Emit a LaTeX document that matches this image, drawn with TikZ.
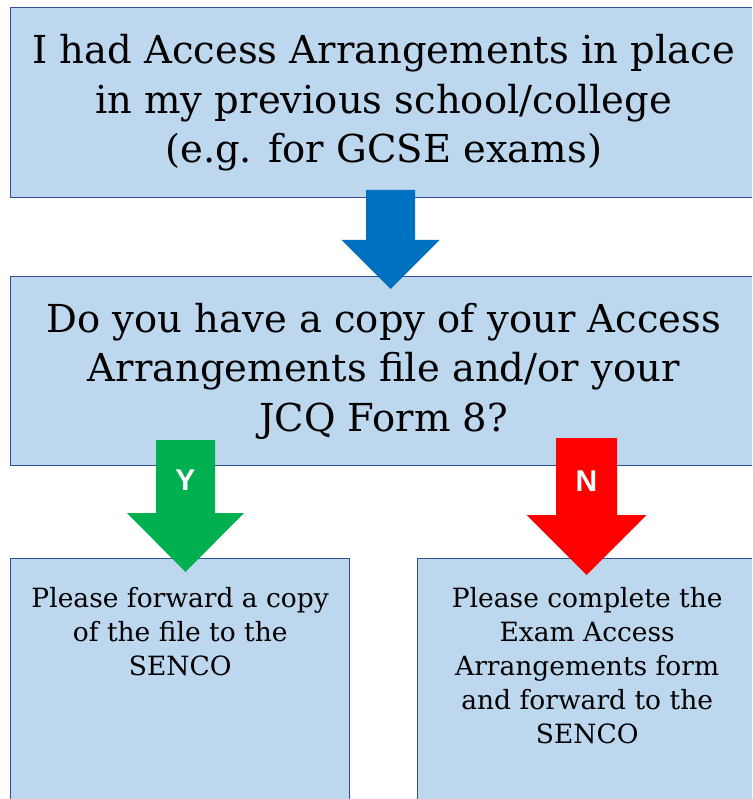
\documentclass[tikz,border=0pt]{standalone}
\usepackage{fontspec}
\setmainfont{DejaVu Serif}
\newfontfamily\yesnofont{Liberation Sans}
\usetikzlibrary{positioning}

\definecolor{boxfill}{HTML}{BDD7EE}
\definecolor{boxline}{HTML}{2F528F}
\definecolor{downblue}{HTML}{0070C0}
\definecolor{yesgreen}{HTML}{00B050}
\definecolor{nored}{HTML}{FF0000}

\tikzset{
	box/.style={draw=boxline, fill=boxfill, line width=1.4pt, inner sep=0pt, anchor=north west},
	bigtext/.style={align=center, font=\fontsize{38.5}{49.5}\selectfont},
	smalltext/.style={align=center, inner sep=0pt, font=\fontsize{26.5}{34}\selectfont},
	yesno/.style={text=white, font=\yesnofont\bfseries\fontsize{30}{32}\selectfont}
}

% block arrow: colour, centre x, top, shaft half width, head start, head half width, tip
\newcommand{\flowarrow}[7]{%
	\fill[#1] (#2-#4,#3) -- (#2+#4,#3) -- (#2+#4,#5) -- (#2+#6,#5) -- (#2,#7)
		-- (#2-#6,#5) -- (#2-#4,#5) -- cycle;}

\begin{document}
\begin{tikzpicture}[x=1pt,y=-1pt]
		\path[use as bounding box, clip] (0,0) rectangle (752,799);
		\node[box,bigtext,minimum width=746pt,minimum height=190pt](had) at (10,7)
			{I had Access Arrangements in place\\in my previous school/college\\(e.g. for GCSE exams)};
		\node[box,bigtext,minimum width=746pt,minimum height=189pt](copy) at (10,276)
			{Do you have a copy of your Access\\Arrangements file and/or your\\JCQ Form 8?};
		\node[box,minimum width=339pt,minimum height=260pt](yes) at (10,558) {};
		\node[box,minimum width=339pt,minimum height=260pt](no) at (417,558) {};
		\node[smalltext,below=29pt of yes.north](yestext)
			{Please forward a copy\\of the file to the\\SENCO};
		\node[smalltext,below=29pt of no.north](notext)
			{Please complete the\\Exam Access\\Arrangements form\\and forward to the\\SENCO};
		\flowarrow{downblue}{390.5}{190}{24.5}{240}{49}{289}
		\flowarrow{yesgreen}{185.5}{440}{29.5}{513}{58.5}{572}
		\flowarrow{nored}{586.5}{438}{30.5}{515}{60}{575}
		\node[yesno](y) at (185.5,480) {Y};
		\node[yesno](n) at (586.5,481) {N};
	\end{tikzpicture}
\end{document}
